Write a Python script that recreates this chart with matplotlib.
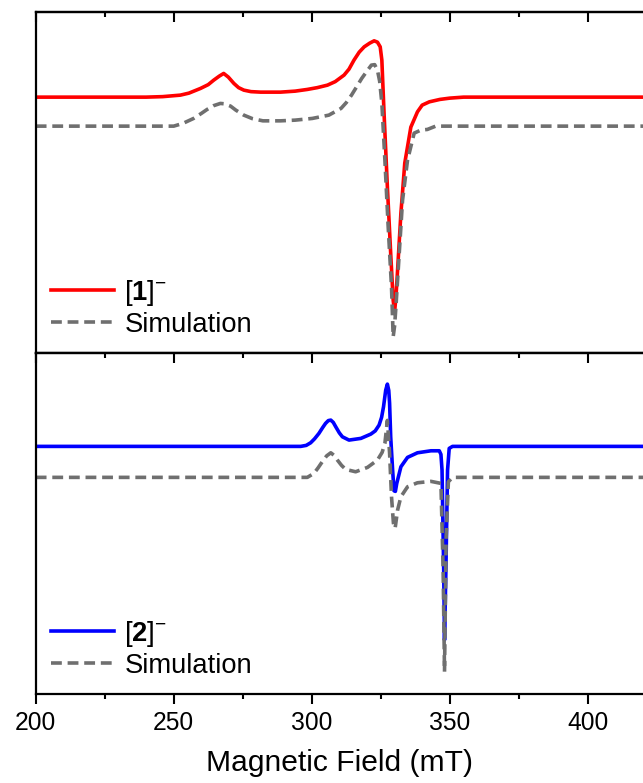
import numpy as np
import matplotlib
matplotlib.use('Agg')
import matplotlib.pyplot as plt
from matplotlib.ticker import MultipleLocator

plt.rcParams['font.family'] = ['Liberation Sans', 'DejaVu Sans']
plt.rcParams['mathtext.fontset'] = 'custom'
plt.rcParams['mathtext.rm'] = 'Liberation Sans'
plt.rcParams['mathtext.bf'] = 'Liberation Sans:bold'

# [1]- experimental spectrum (field in mT, intensity in a.u.)
campo_1 = [200, 240, 246, 252.4, 255.5, 259.7, 262.5, 264.5, 266.5, 268.1, 269.8, 271.8,
           273.5, 275.4, 278, 281.5, 288.7, 294, 298.4, 302, 305.7, 308.5, 311.7, 313.5,
           315.3, 317.2, 319.0, 321.0, 322.6, 323.8, 324.8, 325.4, 326.2, 327.4, 328.6,
           329.5, 330.0, 330.5, 331.1, 332.3, 333.7, 335.9, 338.3, 340, 342.6, 346.4, 350,
           355, 420]
exp_1 = [0, 0, 0.5, 2, 4, 8.7, 12.5, 17, 21, 23.7, 20, 13.7,
         9.5, 7, 5.5, 5, 5, 6, 7.7, 9.5, 12, 15.5, 22, 28,
         37, 45, 50.3, 54, 56.3, 55, 50.3, 37, -16.3, -89.7, -156.3,
         -203, -215, -200, -173, -116, -66, -30, -14.7, -8, -4.7, -2.3, -1,
         0, 0]

# [1]- simulation
campo_sim1 = [200, 250, 253.3, 257.2, 260, 262.1, 264.5, 266.9, 268.5, 270.6, 272.5, 275.4,
              278.5, 282.3, 288.7, 294, 300.2, 306.2, 310.6, 312.5, 314.4, 316.3, 318.1,
              320, 321.6, 322.8, 323.8, 324.6, 325.4, 326.5, 327.7, 328.9, 329.5, 330.0,
              330.5, 331.7, 332.9, 334.7, 337.1, 339.5, 341.9, 344.9, 420]
sim_1 = [0, 0, 2.7, 7.7, 12.7, 16.7, 20.5, 22.7, 22.3, 20, 16, 11,
         7.5, 5.3, 5.3, 6, 7.7, 11, 17.7, 23.5, 31, 39.5, 47.7,
         55, 61, 61.5, 56, 45, 23, -34, -101, -161, -210.7, -200,
         -180.7, -127, -74, -34, -7, -4, -3.3, 0, 0]

# [2]- experimental spectrum
campo_2 = [200, 296, 298, 299.6, 301, 302.6, 304, 305.0, 306.0, 306.9, 307.8, 308.7, 310,
           311.1, 313.5, 317.8, 321.4, 323, 324.4, 325.3, 326.0, 326.8, 327.4, 327.9,
           328.2, 328.6, 329.3, 329.8, 330.3, 330.8, 332.3, 334.7, 338.3, 343.2, 346.2,
           346.8, 347.2, 347.8, 348.1, 348.6, 349.2, 349.8, 351.0, 420]
exp_2 = [0, 0, 1, 3.6, 7.5, 13, 19, 23, 25.8, 26.3, 24, 19.6, 13.5,
         9.6, 6.3, 8, 12.3, 15.5, 21.3, 29, 39.6, 56.3, 62.3, 56,
         43.3, 9.6, -23.7, -44.4, -45, -37, -20.4, -11, -6.4, -4.4, -4.4,
         -8, -23.7, -123.7, -193.7, -123.7, -23.7, -2, 0, 0]

# [2]- simulation
campo_sim2 = [200, 298.4, 300.8, 302.3, 303.8, 305.4, 306.9, 308.1, 309.3, 310.8, 312.3,
              315.9, 320.2, 323.8, 325.5, 326.5, 327.4, 328.2, 328.9, 329.6, 330.2, 331.1,
              332.3, 334.7, 338.3, 343.2, 346.8, 347.6, 348.1, 348.7, 349.5, 351.0, 420]
sim_2 = [0, 0, 4, 9.5, 15.6, 21.5, 24.6, 22, 17.3, 12, 8,
         5.6, 10, 17.3, 25, 34, 57, 24.3, -19.4, -46, -51, -32.7,
         -19.4, -9.4, -5.4, -4, -6, -92.7, -194.4, -59.4, -4.4, 0, 0]

# deslocamento vertical das simulações
offset_sim1 = -29
offset_sim2 = -31

cor_sim = '#6f6f6f'
lw = 2.6

fig = plt.figure(figsize=(6.43, 7.83), dpi=100)
ax1 = fig.add_axes([0.0555, 0.549, 0.9445, 0.4355])
ax2 = fig.add_axes([0.0555, 0.1137, 0.9445, 0.4353])

ax1.plot(campo_1, exp_1, color='red', lw=lw, label=r'$\mathrm{[}\mathbf{1}\mathrm{]}^{-}$')
ax1.plot(campo_sim1, np.array(sim_1) + offset_sim1, color=cor_sim, lw=lw,
         dashes=(3, 1.6), label='Simulation')
ax1.set_ylim(-256, 85)

ax2.plot(campo_2, exp_2, color='blue', lw=lw, label=r'$\mathrm{[}\mathbf{2}\mathrm{]}^{-}$')
ax2.plot(campo_sim2, np.array(sim_2) + offset_sim2, color=cor_sim, lw=lw,
         dashes=(3, 1.6), label='Simulation')
ax2.set_ylim(-247.7, 93.3)

for ax in (ax1, ax2):
    ax.set_xlim(200, 420)
    ax.xaxis.set_major_locator(MultipleLocator(50))
    ax.xaxis.set_minor_locator(MultipleLocator(25))
    ax.set_yticks([])
    ax.spines['right'].set_visible(False)
    for s in ('left', 'top', 'bottom'):
        ax.spines[s].set_linewidth(1.6)
    ax.tick_params(axis='x', which='major', direction='out', length=7.2, width=1.5,
                   labelsize=17.7, pad=5)
    ax.tick_params(axis='x', which='minor', direction='out', length=3.6, width=1.5)
    sec = ax.secondary_xaxis('top')
    sec.xaxis.set_major_locator(MultipleLocator(50))
    sec.xaxis.set_minor_locator(MultipleLocator(25))
    sec.tick_params(axis='x', which='major', direction='in', length=7.2, width=1.5,
                    labeltop=False)
    sec.tick_params(axis='x', which='minor', direction='in', length=3.6, width=1.5)
    sec.spines['top'].set_linewidth(1.6)
    ax.legend(loc='lower left', bbox_to_anchor=(0.026, 0.045), frameon=False,
              fontsize=19.7, handlelength=2.3, handletextpad=0.36,
              labelspacing=0.15, borderpad=0, borderaxespad=0)

ax1.tick_params(axis='x', labelbottom=False)
ax2.set_xlabel('Magnetic Field (mT)', fontsize=21.6, labelpad=10)

fig.savefig('out.png', dpi=100)
